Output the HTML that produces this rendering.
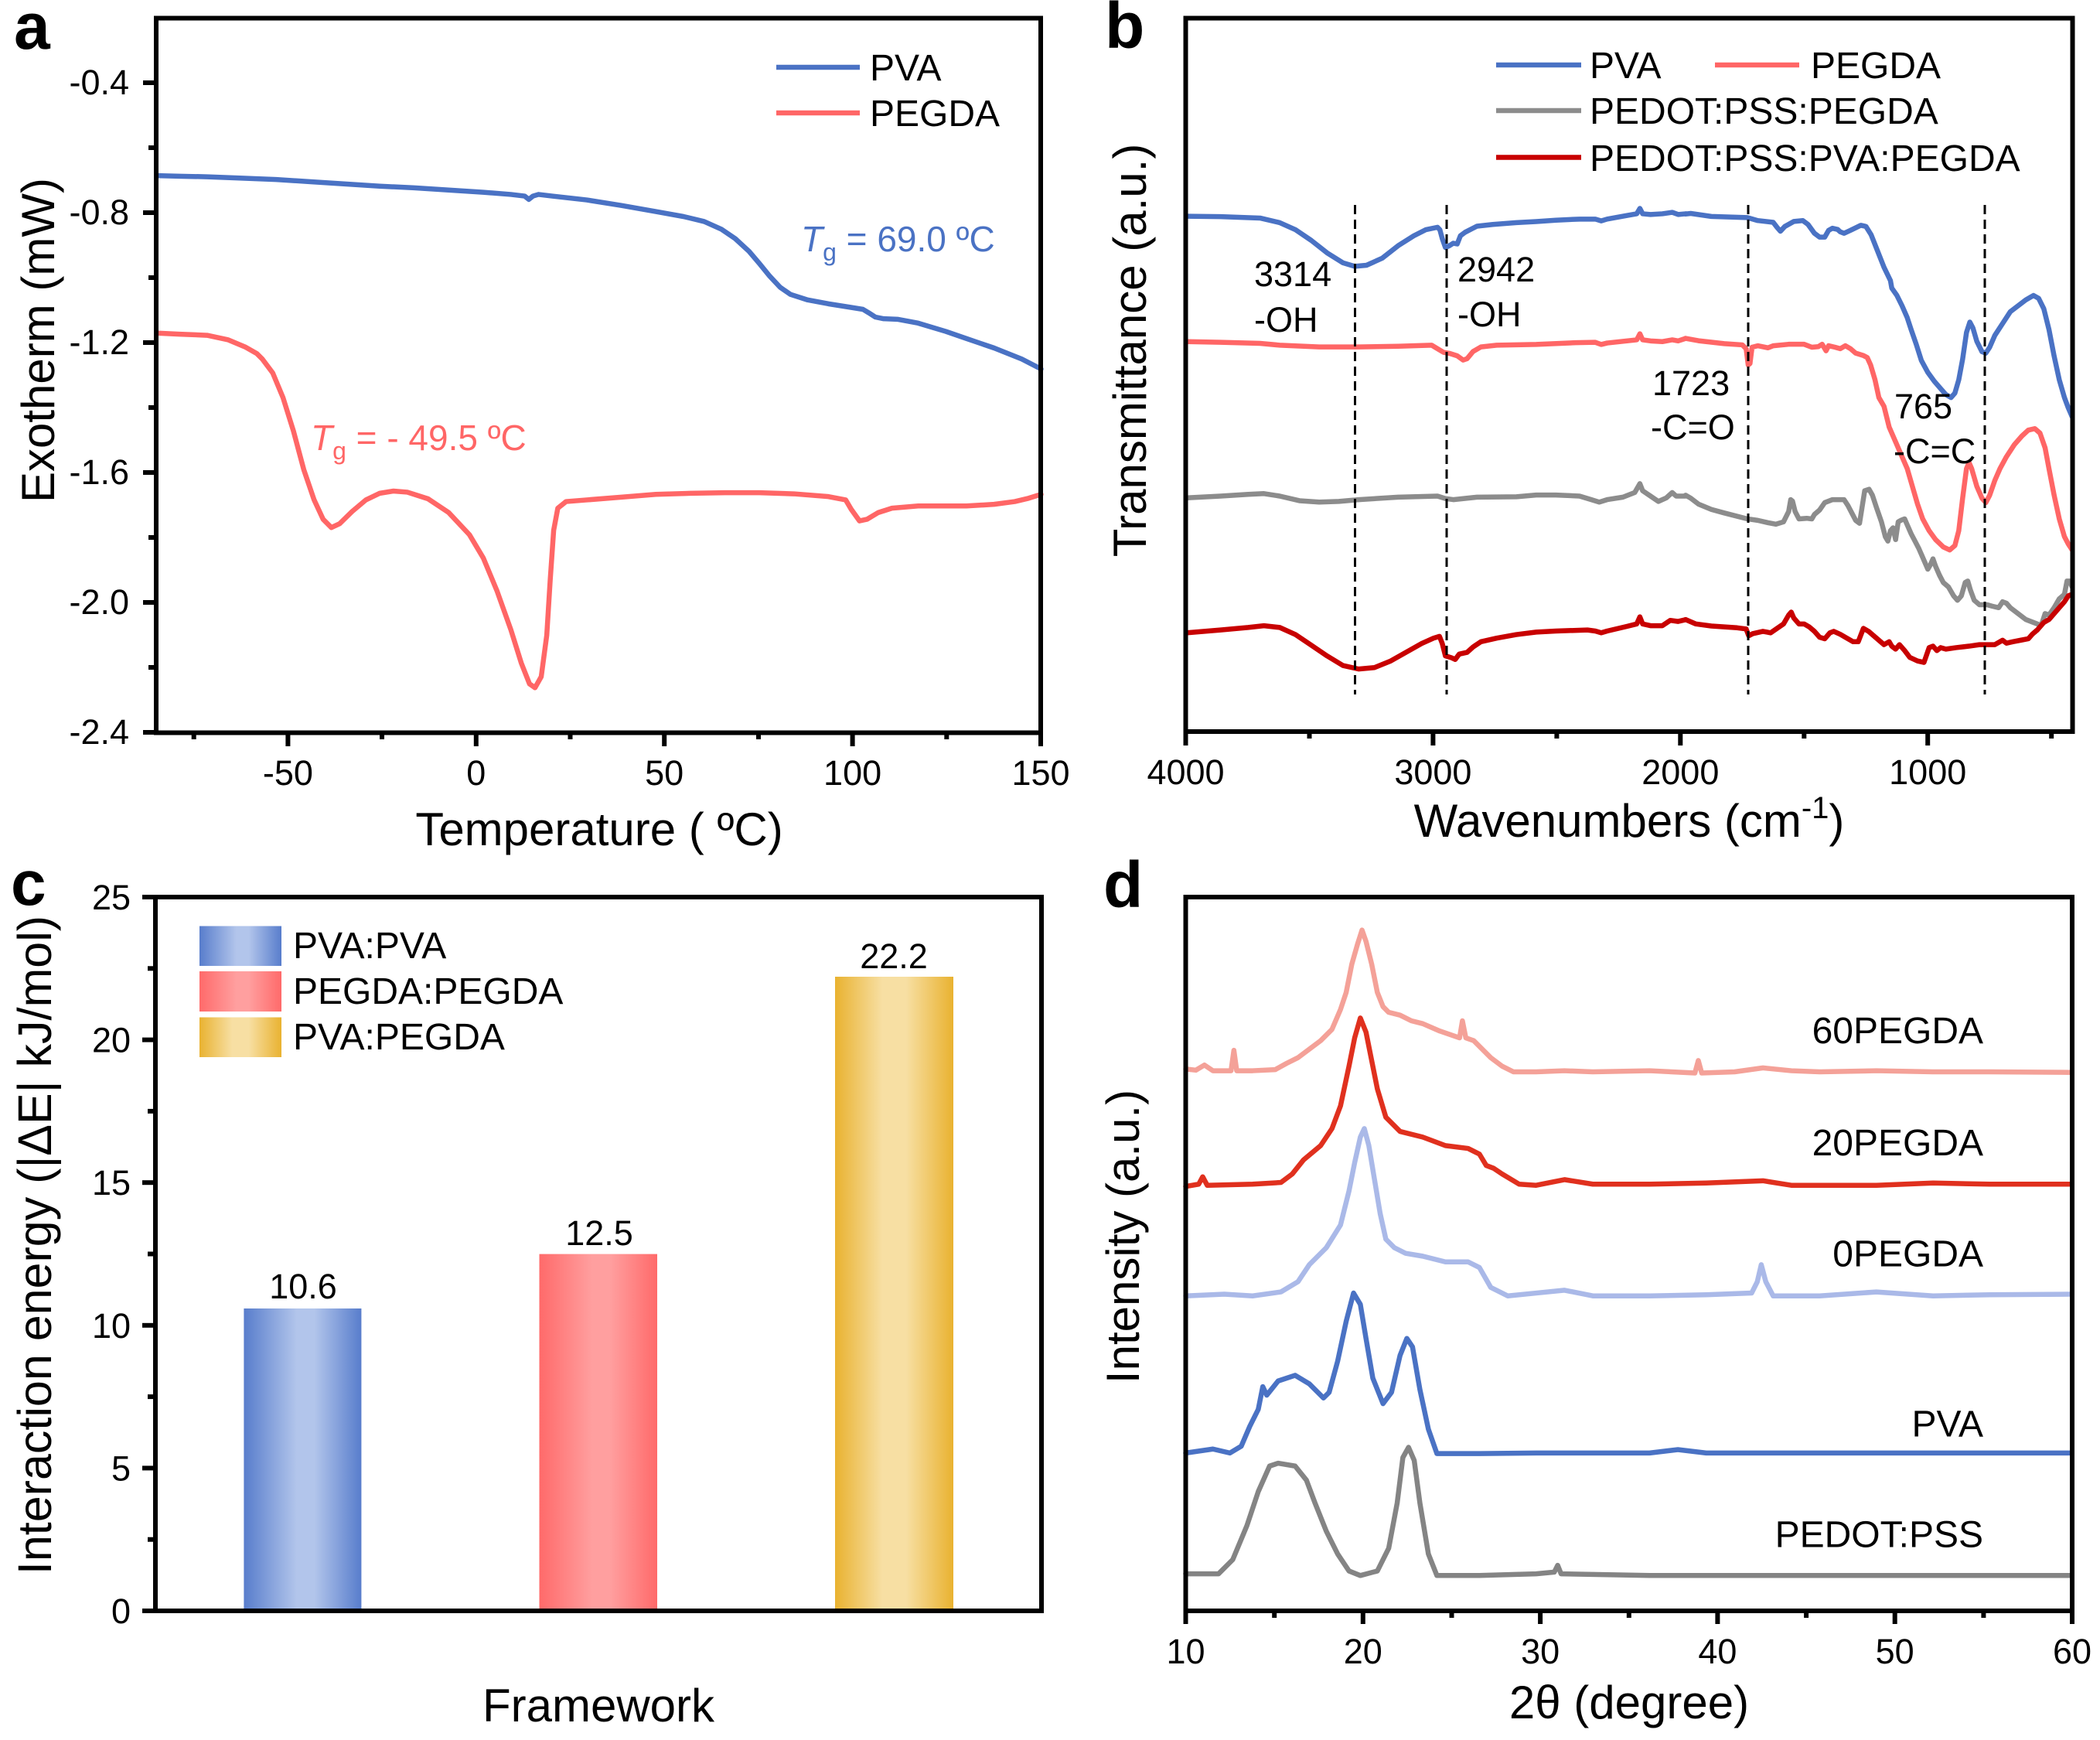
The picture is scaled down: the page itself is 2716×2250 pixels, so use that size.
<!DOCTYPE html>
<html>
<head>
<meta charset="utf-8">
<style>
html,body{margin:0;padding:0;background:#fff;}
svg{display:block;}
text{font-family:"Liberation Sans",Arial,sans-serif;fill:#000;}
</style>
</head>
<body>
<svg width="2716" height="2250" viewBox="0 0 2716 2250" xmlns="http://www.w3.org/2000/svg">
<defs>
<linearGradient id="gb" x1="0" x2="1" y1="0" y2="0">
<stop offset="0" stop-color="#587dcc"/><stop offset="0.45" stop-color="#b2c5eb"/><stop offset="0.6" stop-color="#b2c5eb"/><stop offset="1" stop-color="#587dcc"/>
</linearGradient>
<linearGradient id="gr" x1="0" x2="1" y1="0" y2="0">
<stop offset="0" stop-color="#ff6a6a"/><stop offset="0.45" stop-color="#ff9f9f"/><stop offset="0.6" stop-color="#ff9f9f"/><stop offset="1" stop-color="#ff6a6a"/>
</linearGradient>
<linearGradient id="gy" x1="0" x2="1" y1="0" y2="0">
<stop offset="0" stop-color="#e9b230"/><stop offset="0.4" stop-color="#f7dfa3"/><stop offset="0.6" stop-color="#f7dfa3"/><stop offset="1" stop-color="#e9b230"/>
</linearGradient>
</defs>
<rect width="2716" height="2250" fill="#fff"/>

<!-- ================= PANEL A ================= -->
<text x="18" y="63" font-size="84" font-weight="bold">a</text>
<g fill="none" stroke-linejoin="round" stroke-linecap="round" transform="scale(0.892857,0.714286)">
<polyline vector-effect="non-scaling-stroke" stroke="#4a72c4" stroke-width="6.5" points="228,318 260,319 300,320 340,322 400,325 450,329 500,333 550,337 600,340 650,344 700,348 740,352 760,355 766,361 772,355 780,352 800,355 850,362 900,372 950,383 990,392 1020,401 1045,415 1065,432 1085,455 1100,477 1115,500 1130,520 1145,533 1170,543 1200,550 1230,556 1250,560 1258,566 1268,574 1280,577 1300,578 1330,585 1370,600 1400,613 1440,630 1480,650 1508,668"/>
<polyline vector-effect="non-scaling-stroke" stroke="#ff6666" stroke-width="6.5" points="228,603 260,605 300,607 330,615 355,628 372,640 380,650 395,675 410,720 425,780 440,850 455,905 468,940 480,955 492,948 510,926 530,905 550,893 570,889 590,891 620,903 650,928 680,968 700,1010 720,1070 740,1140 755,1200 767,1238 775,1245 784,1225 792,1150 797,1050 802,960 808,920 820,908 850,905 900,900 950,895 1000,893 1050,892 1100,892 1150,894 1200,899 1225,905 1233,922 1245,943 1256,940 1272,928 1292,920 1330,916 1400,916 1440,913 1470,908 1490,902 1508,895"/>
</g>
<rect x="202" y="23.5" width="1144" height="924" fill="none" stroke="#000" stroke-width="6"/>
<g stroke="#000" stroke-width="6">
<line x1="199" y1="107" x2="185" y2="107"/><line x1="199" y1="275" x2="185" y2="275"/><line x1="199" y1="443" x2="185" y2="443"/><line x1="199" y1="611" x2="185" y2="611"/><line x1="199" y1="779" x2="185" y2="779"/><line x1="199" y1="947" x2="185" y2="947"/>
<line x1="199" y1="191" x2="192" y2="191"/><line x1="199" y1="359" x2="192" y2="359"/><line x1="199" y1="527" x2="192" y2="527"/><line x1="199" y1="695" x2="192" y2="695"/><line x1="199" y1="863" x2="192" y2="863"/>
<line x1="372.4" y1="950" x2="372.4" y2="965"/><line x1="615.8" y1="950" x2="615.8" y2="965"/><line x1="859.2" y1="950" x2="859.2" y2="965"/><line x1="1102.6" y1="950" x2="1102.6" y2="965"/><line x1="1346" y1="950" x2="1346" y2="965"/>
<line x1="250.7" y1="950" x2="250.7" y2="956"/><line x1="494" y1="950" x2="494" y2="956"/><line x1="737.5" y1="950" x2="737.5" y2="956"/><line x1="981" y1="950" x2="981" y2="956"/><line x1="1224.3" y1="950" x2="1224.3" y2="956"/>
</g>
<g font-size="45" text-anchor="end">
<text x="167" y="122">-0.4</text><text x="167" y="290">-0.8</text><text x="167" y="458">-1.2</text><text x="167" y="626">-1.6</text><text x="167" y="794">-2.0</text><text x="167" y="962">-2.4</text>
</g>
<g font-size="45" text-anchor="middle">
<text x="372.4" y="1015">-50</text><text x="615.8" y="1015">0</text><text x="859.2" y="1015">50</text><text x="1102.6" y="1015">100</text><text x="1346" y="1015">150</text>
</g>
<text x="775" y="1093" font-size="60" text-anchor="middle">Temperature ( ºC)</text>
<text transform="translate(70,440) rotate(-90)" font-size="60" text-anchor="middle">Exotherm (mW)</text>
<line x1="1004" y1="87" x2="1112" y2="87" stroke="#4a72c4" stroke-width="6.5"/>
<line x1="1004" y1="146" x2="1112" y2="146" stroke="#ff6666" stroke-width="6.5"/>
<text x="1125" y="104" font-size="48">PVA</text>
<text x="1125" y="163" font-size="48">PEGDA</text>
<text x="1036" y="325" font-size="46" style="fill:#4a72c4"><tspan font-style="italic">T</tspan><tspan font-size="32" dy="12">g</tspan><tspan dy="-12"> = 69.0 ºC</tspan></text>
<text x="402" y="582" font-size="46" style="fill:#ff6666"><tspan font-style="italic">T</tspan><tspan font-size="32" dy="12">g</tspan><tspan dy="-12"> = - 49.5 ºC</tspan></text>

<!-- ================= PANEL B ================= -->
<text x="1429" y="62" font-size="84" font-weight="bold">b</text>
<g fill="none" stroke-linejoin="round" stroke-linecap="round">
<g transform="translate(1400,180) scale(0.5102,0.4592)">
<polyline vector-effect="non-scaling-stroke" stroke="#4a72c4" stroke-width="6.5" points="265,217 350,218 450,222 500,235 540,255 580,285 620,320 660,348 690,358 720,355 760,335 800,300 840,272 870,255 900,248 906,255 912,280 920,305 930,300 940,293 950,295 958,272 970,262 1000,245 1040,240 1100,235 1150,232 1200,228 1260,225 1300,225 1315,230 1330,225 1380,215 1405,210 1413,195 1420,210 1440,212 1470,210 1495,206 1510,212 1529,210"/>
<polyline vector-effect="non-scaling-stroke" stroke="#ff6666" stroke-width="6.5" points="265,570 350,572 450,575 500,580 600,585 700,585 800,583 885,580 900,590 915,600 930,603 950,610 965,622 975,618 990,598 1010,585 1050,580 1150,578 1250,573 1300,572 1315,578 1330,574 1380,568 1405,565 1413,548 1420,565 1440,568 1470,570 1495,565 1510,568 1529,561"/>
<polyline vector-effect="non-scaling-stroke" stroke="#8c8c8c" stroke-width="6.5" points="265,1010 350,1005 420,1000 460,998 500,1005 550,1018 600,1022 650,1020 700,1015 800,1008 900,1005 920,1012 940,1015 1000,1008 1100,1007 1150,1002 1200,1002 1260,1005 1290,1015 1310,1022 1330,1015 1370,1008 1400,995 1413,970 1420,990 1440,1005 1460,1020 1480,1010 1495,995 1505,1005 1515,1005 1529,1005"/>
<polyline vector-effect="non-scaling-stroke" stroke="#c80000" stroke-width="6.5" points="265,1390 350,1382 420,1375 460,1370 500,1375 540,1395 580,1425 620,1455 660,1482 700,1492 740,1488 780,1470 820,1445 860,1420 890,1405 905,1400 912,1420 920,1455 935,1460 945,1465 955,1450 975,1445 990,1430 1010,1415 1050,1405 1100,1395 1150,1388 1200,1385 1280,1382 1300,1385 1315,1390 1330,1385 1380,1372 1405,1365 1413,1345 1420,1365 1440,1370 1470,1370 1490,1355 1510,1358 1529,1353"/>
</g>
<g transform="translate(2180,250) scale(0.33333,0.3827)">
<polyline vector-effect="non-scaling-stroke" stroke="#4a72c4" stroke-width="6.5" points="0,70 20,68 100,78 240,82 280,92 340,98 355,115 368,128 385,112 420,95 455,92 475,105 500,135 520,148 540,148 555,125 570,118 590,122 600,130 615,135 640,125 680,108 700,112 720,140 745,195 770,250 795,295 800,320 820,345 840,380 860,420 875,460 895,510 915,565 940,605 965,635 990,660 1010,680 1030,690 1045,675 1060,630 1075,560 1090,470 1103,435 1115,455 1130,500 1150,535 1165,540 1180,520 1200,480 1230,440 1260,400 1290,380 1320,360 1350,345 1370,355 1390,390 1410,460 1430,550 1450,630 1470,690 1485,725 1500,755"/>
<polyline vector-effect="non-scaling-stroke" stroke="#ff6666" stroke-width="6.5" points="0,490 50,498 150,508 220,512 235,525 243,580 250,575 258,520 280,515 320,522 340,515 400,510 460,510 490,520 515,518 530,510 545,532 555,515 580,520 600,525 620,515 640,525 660,540 690,548 705,555 718,580 735,630 750,690 770,720 790,790 815,840 835,880 860,930 880,990 900,1050 920,1100 945,1140 970,1170 1000,1195 1025,1205 1045,1190 1060,1140 1075,1030 1090,930 1100,910 1110,930 1130,990 1150,1030 1165,1045 1180,1020 1200,970 1220,930 1245,890 1275,850 1305,820 1330,800 1355,795 1375,810 1395,860 1410,930 1430,1020 1450,1100 1470,1160 1485,1185 1500,1205"/>
<polyline vector-effect="non-scaling-stroke" stroke="#8c8c8c" stroke-width="6.5" points="0,1020 20,1030 50,1050 100,1068 150,1080 240,1100 280,1105 320,1113 350,1118 380,1110 400,1075 408,1035 415,1040 425,1075 440,1100 470,1098 490,1100 500,1085 520,1070 540,1045 570,1035 600,1035 615,1035 630,1055 645,1080 660,1105 675,1115 685,1060 695,1005 712,1000 725,1020 740,1060 760,1110 775,1160 785,1175 795,1140 805,1130 815,1170 825,1110 835,1105 850,1100 860,1120 875,1150 890,1175 905,1200 920,1230 940,1270 950,1255 960,1235 970,1260 985,1290 1000,1315 1020,1330 1040,1360 1055,1375 1070,1360 1085,1315 1095,1310 1105,1340 1120,1375 1140,1390 1170,1390 1190,1395 1215,1400 1230,1380 1245,1385 1260,1400 1290,1420 1320,1440 1350,1450 1380,1460 1395,1420 1410,1425 1430,1400 1450,1370 1470,1355 1480,1310 1490,1310 1500,1330"/>
<polyline vector-effect="non-scaling-stroke" stroke="#c80000" stroke-width="6.5" points="0,1440 40,1455 100,1462 200,1468 235,1472 245,1495 260,1488 300,1480 330,1485 355,1470 380,1455 400,1425 410,1415 420,1435 440,1455 460,1455 480,1465 500,1480 520,1500 540,1505 560,1485 575,1480 600,1490 620,1500 650,1515 670,1515 690,1470 710,1480 730,1495 750,1510 770,1525 790,1515 800,1530 815,1540 830,1525 850,1545 870,1568 900,1580 925,1585 935,1560 945,1535 960,1530 975,1545 990,1535 1010,1540 1050,1535 1100,1530 1140,1525 1200,1525 1230,1510 1245,1520 1270,1515 1300,1510 1330,1505 1345,1490 1365,1475 1390,1450 1410,1440 1430,1420 1450,1400 1470,1380 1485,1360 1500,1355"/>
</g>
</g>
<g stroke="#000" stroke-width="3" stroke-dasharray="12,7">
<line x1="1752.5" y1="265" x2="1752.5" y2="898"/>
<line x1="1871" y1="265" x2="1871" y2="898"/>
<line x1="2261" y1="265" x2="2261" y2="898"/>
<line x1="2567" y1="265" x2="2567" y2="898"/>
</g>
<rect x="1533.5" y="23.5" width="1147" height="922.5" fill="none" stroke="#000" stroke-width="6"/>
<g stroke="#000" stroke-width="6">
<line x1="1533.5" y1="949" x2="1533.5" y2="964"/><line x1="1853.4" y1="949" x2="1853.4" y2="964"/><line x1="2173.3" y1="949" x2="2173.3" y2="964"/><line x1="2493.2" y1="949" x2="2493.2" y2="964"/>
<line x1="1693.5" y1="949" x2="1693.5" y2="955"/><line x1="2013.4" y1="949" x2="2013.4" y2="955"/><line x1="2333.3" y1="949" x2="2333.3" y2="955"/><line x1="2653.2" y1="949" x2="2653.2" y2="955"/>
</g>
<g font-size="45" text-anchor="middle">
<text x="1533.5" y="1014">4000</text><text x="1853.4" y="1014">3000</text><text x="2173.3" y="1014">2000</text><text x="2493.2" y="1014">1000</text>
</g>
<text x="2107" y="1082" font-size="60" text-anchor="middle">Wavenumbers (cm<tspan font-size="40" dy="-24">-1</tspan><tspan dy="24">)</tspan></text>
<text transform="translate(1482,453) rotate(-90)" font-size="60" text-anchor="middle">Transmittance (a.u.)</text>
<g stroke-width="6.5">
<line x1="1935" y1="84" x2="2045" y2="84" stroke="#4a72c4"/>
<line x1="2218" y1="84" x2="2327" y2="84" stroke="#ff6666"/>
<line x1="1935" y1="143" x2="2045" y2="143" stroke="#8c8c8c"/>
<line x1="1935" y1="203.5" x2="2045" y2="203.5" stroke="#c80000"/>
</g>
<g font-size="48">
<text x="2056" y="101">PVA</text>
<text x="2342" y="101">PEGDA</text>
<text x="2056" y="160">PEDOT:PSS:PEGDA</text>
<text x="2056" y="221">PEDOT:PSS:PVA:PEGDA</text>
</g>
<g font-size="45">
<text x="1622" y="370">3314</text><text x="1622" y="429">-OH</text>
<text x="1885" y="364">2942</text><text x="1885" y="422">-OH</text>
<text x="2137" y="511">1723</text><text x="2135" y="568">-C=O</text>
<text x="2450" y="541">765</text><text x="2449" y="599">-C=C</text>
</g>

<!-- ================= PANEL C ================= -->
<text x="14" y="1170" font-size="82" font-weight="bold">c</text>
<rect x="315.4" y="1692" width="152" height="391" fill="url(#gb)"/>
<rect x="697.5" y="1621.6" width="152.5" height="461.4" fill="url(#gr)"/>
<rect x="1080" y="1263" width="153" height="820" fill="url(#gy)"/>
<rect x="201" y="1160" width="1146" height="923" fill="none" stroke="#000" stroke-width="6"/>
<g stroke="#000" stroke-width="6">
<line x1="198" y1="1160" x2="184" y2="1160"/><line x1="198" y1="1344.6" x2="184" y2="1344.6"/><line x1="198" y1="1529.2" x2="184" y2="1529.2"/><line x1="198" y1="1713.8" x2="184" y2="1713.8"/><line x1="198" y1="1898.4" x2="184" y2="1898.4"/><line x1="198" y1="2083" x2="184" y2="2083"/>
<line x1="198" y1="1252.3" x2="191" y2="1252.3"/><line x1="198" y1="1436.9" x2="191" y2="1436.9"/><line x1="198" y1="1621.5" x2="191" y2="1621.5"/><line x1="198" y1="1806.1" x2="191" y2="1806.1"/><line x1="198" y1="1990.7" x2="191" y2="1990.7"/>
</g>
<g font-size="45" text-anchor="end">
<text x="169" y="1176">25</text><text x="169" y="1360.6">20</text><text x="169" y="1545.2">15</text><text x="169" y="1729.8">10</text><text x="169" y="1914.4">5</text><text x="169" y="2099">0</text>
</g>
<g font-size="45" text-anchor="middle">
<text x="392" y="1679">10.6</text><text x="775" y="1610">12.5</text><text x="1156" y="1252">22.2</text>
</g>
<rect x="258" y="1197.5" width="106" height="51.5" fill="url(#gb)"/>
<rect x="258" y="1256" width="106" height="52" fill="url(#gr)"/>
<rect x="258" y="1315.5" width="106" height="51.5" fill="url(#gy)"/>
<g font-size="48">
<text x="379" y="1239">PVA:PVA</text>
<text x="379" y="1298">PEGDA:PEGDA</text>
<text x="379" y="1357">PVA:PEGDA</text>
</g>
<text x="774" y="2226" font-size="60" text-anchor="middle">Framework</text>
<text transform="translate(66,1610) rotate(-90)" font-size="61" text-anchor="middle">Interaction energy (|ΔE| kJ/mol)</text>

<!-- ================= PANEL D ================= -->
<text x="1427" y="1173" font-size="84" font-weight="bold">d</text>
<g fill="none" stroke-linejoin="round" stroke-linecap="round" transform="translate(1400,1100) scale(0.73341)">
<polyline vector-effect="non-scaling-stroke" stroke="#f4a198" stroke-width="6.5" points="182,385 200,387 215,378 230,388 262,388 267,352 272,388 300,388 340,386 360,375 380,365 400,350 420,335 440,315 455,280 465,250 475,200 485,165 493,140 500,160 510,200 520,250 530,275 540,285 560,290 580,300 600,305 630,318 665,330 670,300 676,330 690,335 705,350 720,365 740,380 760,390 800,390 850,388 900,390 1000,388 1080,392 1086,370 1092,392 1150,390 1200,383 1250,388 1300,390 1400,388 1500,390 1600,390 1745,391"/>
<polyline vector-effect="non-scaling-stroke" stroke="#e0301e" stroke-width="6.5" points="182,592 205,588 212,575 220,590 300,588 350,585 370,570 390,545 420,520 440,490 455,450 470,380 480,330 490,295 500,320 510,370 520,420 535,470 560,495 600,505 640,520 680,525 700,535 712,555 725,560 740,570 770,588 800,590 850,580 900,588 1000,588 1100,586 1200,582 1250,590 1400,590 1500,586 1600,588 1745,588"/>
<polyline vector-effect="non-scaling-stroke" stroke="#aab9e8" stroke-width="6.5" points="182,785 250,782 300,785 350,778 380,760 400,730 430,700 455,660 470,600 480,550 490,505 497,490 505,520 515,580 525,640 535,685 550,700 570,710 600,715 640,725 680,725 700,735 720,770 750,785 800,780 850,775 900,785 1000,785 1100,783 1180,780 1190,760 1197,730 1205,760 1218,785 1300,785 1400,778 1500,785 1600,783 1745,782"/>
<polyline vector-effect="non-scaling-stroke" stroke="#4a72c4" stroke-width="6.5" points="182,1062 230,1055 260,1062 280,1050 295,1015 310,985 318,945 325,960 345,935 375,925 400,940 425,965 435,955 450,900 465,830 478,780 490,800 500,860 512,930 530,975 545,955 560,890 572,860 582,875 595,950 610,1020 625,1063 700,1063 800,1062 1000,1062 1050,1056 1100,1062 1745,1062"/>
<polyline vector-effect="non-scaling-stroke" stroke="#848484" stroke-width="6.5" points="182,1275 240,1275 265,1250 290,1190 310,1130 330,1085 345,1080 375,1085 395,1110 410,1150 430,1200 450,1240 470,1270 490,1278 520,1270 540,1230 555,1150 565,1070 575,1052 585,1075 595,1150 610,1240 625,1278 700,1278 800,1275 832,1272 838,1260 844,1275 1000,1278 1745,1278"/>
</g>
<rect x="1533.5" y="1160" width="1146.5" height="923" fill="none" stroke="#000" stroke-width="6"/>
<g stroke="#000" stroke-width="6">
<line x1="1533.5" y1="2086" x2="1533.5" y2="2100"/><line x1="1762.8" y1="2086" x2="1762.8" y2="2100"/><line x1="1992.1" y1="2086" x2="1992.1" y2="2100"/><line x1="2221.4" y1="2086" x2="2221.4" y2="2100"/><line x1="2450.7" y1="2086" x2="2450.7" y2="2100"/><line x1="2680" y1="2086" x2="2680" y2="2100"/>
<line x1="1648.2" y1="2086" x2="1648.2" y2="2092"/><line x1="1877.5" y1="2086" x2="1877.5" y2="2092"/><line x1="2106.8" y1="2086" x2="2106.8" y2="2092"/><line x1="2336.1" y1="2086" x2="2336.1" y2="2092"/><line x1="2565.4" y1="2086" x2="2565.4" y2="2092"/>
</g>
<g font-size="45" text-anchor="middle">
<text x="1533.5" y="2151">10</text><text x="1762.8" y="2151">20</text><text x="1992.1" y="2151">30</text><text x="2221.4" y="2151">40</text><text x="2450.7" y="2151">50</text><text x="2680" y="2151">60</text>
</g>
<g font-size="48" text-anchor="end">
<text x="2565" y="1349">60PEGDA</text>
<text x="2565" y="1494">20PEGDA</text>
<text x="2565" y="1637.5">0PEGDA</text>
<text x="2565" y="1857.5">PVA</text>
<text x="2565" y="2000.5">PEDOT:PSS</text>
</g>
<text x="2107" y="2222" font-size="60" text-anchor="middle">2θ (degree)</text>
<text transform="translate(1473,1599) rotate(-90)" font-size="60" text-anchor="middle">Intensity (a.u.)</text>
</svg>
</body>
</html>
